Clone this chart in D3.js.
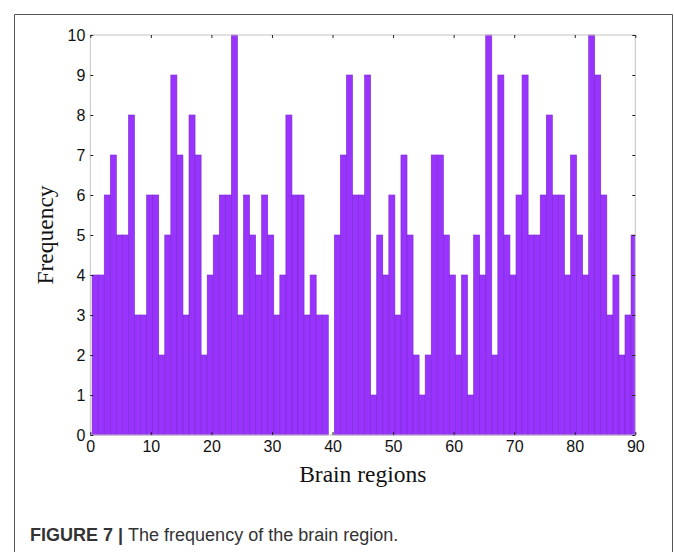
<!DOCTYPE html>
<html>
<head>
<meta charset="utf-8">
<script src="https://cdn.jsdelivr.net/npm/d3@7"></script>
<style>
  body { margin: 0; background: #fff; }
  svg { display: block; }
</style>
</head>
<body>
<svg id="chart" width="674" height="552"></svg>
<script>
// frequency of each of the 90 brain regions
var regions = d3.range(1, 91);
var frequency = [
  4, 4, 6, 7, 5, 5, 8, 3, 3, 6,
  6, 2, 5, 9, 7, 3, 8, 7, 2, 4,
  5, 6, 6, 10, 3, 6, 5, 4, 6, 5,
  3, 4, 8, 6, 6, 3, 4, 3, 3, 0,
  5, 7, 9, 6, 6, 9, 1, 5, 4, 6,
  3, 7, 5, 2, 1, 2, 7, 7, 5, 4,
  2, 4, 1, 5, 4, 10, 2, 9, 5, 4,
  6, 9, 5, 5, 6, 8, 6, 6, 4, 7,
  5, 4, 10, 9, 6, 3, 4, 2, 3, 5
];
var xTicks = d3.range(0, 91, 10);
var yTicks = d3.range(0, 11, 1);

var svg = d3.select("#chart");
var plotLeft = 90.3, plotRight = 635.3, plotTop = 35, plotBottom = 435;

var x = d3.scaleLinear().domain([0, 90]).range([plotLeft, plotRight]);
var y = d3.scaleLinear().domain([0, 10]).range([plotBottom, plotTop]);

// outer figure frame
svg.append("path")
  .attr("d", "M14.5,560 V14.5 H672.5 V560")
  .attr("fill", "none")
  .attr("stroke", "#555")
  .attr("stroke-width", 1);

svg.append("clipPath").attr("id", "plotclip")
  .append("rect")
  .attr("x", plotLeft).attr("y", plotTop - 1)
  .attr("width", plotRight - plotLeft).attr("height", plotBottom - plotTop + 2);

// bars sit slightly left of each integer
var offset = 0.2;
svg.append("g").attr("clip-path", "url(#plotclip)")
  .selectAll("rect")
  .data(regions)
  .enter().append("rect")
    .attr("x", function(d) { return x(d - offset - 0.5); })
    .attr("width", function(d) { return x(d - offset + 0.5) - x(d - offset - 0.5); })
    .attr("y", function(d, i) { return y(frequency[i]); })
    .attr("height", function(d, i) { return y(0) - y(frequency[i]); })
    .attr("fill", "#9933ff")
    .attr("stroke", "#7a2bc8")
    .attr("stroke-width", 0.6);

// box
svg.append("rect")
  .attr("x", plotLeft).attr("y", plotTop)
  .attr("width", plotRight - plotLeft).attr("height", plotBottom - plotTop)
  .attr("fill", "none")
  .attr("stroke", "#c4c4c4")
  .attr("stroke-width", 1);

var axisStyle = function(g) {
  g.attr("font-size", null).attr("font-family", null);
  g.select(".domain").remove();
  g.selectAll(".tick line").attr("stroke", "#222").attr("stroke-width", 1);
  g.selectAll(".tick text")
    .attr("fill", "#111")
    .style("font-family", "Liberation Sans, Arial, sans-serif")
    .style("font-size", "16px");
};

svg.append("g")
  .attr("transform", "translate(0," + plotBottom + ")")
  .call(d3.axisBottom(x).tickValues(xTicks).tickSize(-3).tickPadding(6).tickFormat(d3.format("d")))
  .call(axisStyle);

svg.append("g")
  .attr("transform", "translate(0," + plotTop + ")")
  .call(d3.axisTop(x).tickValues(xTicks).tickSize(-3).tickFormat(""))
  .call(axisStyle);

svg.append("g")
  .attr("transform", "translate(" + plotLeft + ",0)")
  .call(d3.axisLeft(y).tickValues(yTicks).tickSize(-3).tickPadding(5).tickFormat(d3.format("d")))
  .call(axisStyle);

svg.append("g")
  .attr("transform", "translate(" + plotRight + ",0)")
  .call(d3.axisRight(y).tickValues(yTicks).tickSize(-3).tickFormat(""))
  .call(axisStyle);

// axis titles
svg.append("text")
  .attr("x", (plotLeft + plotRight) / 2).attr("y", 482)
  .attr("text-anchor", "middle")
  .style("font-family", "Liberation Serif, Times New Roman, serif")
  .style("font-size", "23.5px")
  .attr("fill", "#111")
  .text("Brain regions");

svg.append("text")
  .attr("transform", "translate(53,235) rotate(-90)")
  .attr("text-anchor", "middle")
  .style("font-family", "Liberation Serif, Times New Roman, serif")
  .style("font-size", "23.5px")
  .attr("fill", "#111")
  .text("Frequency");

// caption
var cap = svg.append("text")
  .attr("x", 30).attr("y", 541)
  .style("font-family", "Liberation Sans Narrow, Arial Narrow, sans-serif")
  .style("font-size", "18px")
  .attr("fill", "#333");
cap.append("tspan").style("font-weight", "bold").text("FIGURE 7 | ");
cap.append("tspan").text("The frequency of the brain region.");
</script>
</body>
</html>
